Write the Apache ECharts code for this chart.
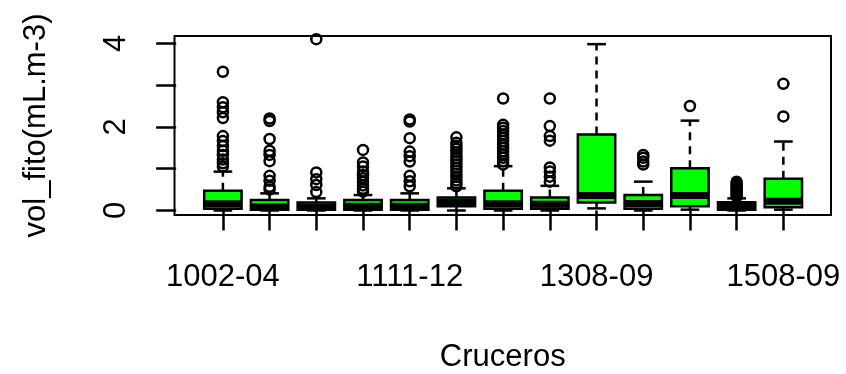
<!DOCTYPE html>
<html>
<head>
<meta charset="utf-8">
<script src="https://cdn.jsdelivr.net/npm/echarts@6/dist/echarts.min.js"></script>
<style>
  html, body { margin: 0; padding: 0; background: #fff; }
  #chart { width: 846px; height: 374px; }
</style>
</head>
<body>
<div id="chart"></div>
<script>
// cruceros (only every 4th label is printed on the axis)
const cruceros = ['1002-04', '', '', '', '1111-12', '', '', '', '1308-09', '', '', '', '1508-09'];

// box statistics per crucero
const bigoteInf = [0.00, 0.00, 0.00, 0.00, 0.00, 0.00, 0.00, 0.00, 0.05, 0.00, 0.02, 0.00, 0.02];
const cuartil1 = [0.04, 0.02, 0.02, 0.02, 0.02, 0.10, 0.04, 0.04, 0.19, 0.04, 0.10, 0.02, 0.08];
const mediana = [0.16, 0.09, 0.08, 0.10, 0.10, 0.20, 0.16, 0.15, 0.36, 0.17, 0.36, 0.10, 0.22];
const cuartil3 = [0.47, 0.25, 0.19, 0.25, 0.25, 0.31, 0.47, 0.31, 1.82, 0.37, 1.01, 0.20, 0.76];
const bigoteSup = [0.93, 0.41, 0.29, 0.37, 0.41, 0.53, 1.06, 0.59, 3.98, 0.69, 2.15, 0.29, 1.65];

// outliers per crucero
const atipicos = [
  [3.32, 2.59, 2.47, 2.35, 2.21, 1.78, 1.66, 1.54, 1.43, 1.33, 1.22, 1.13, 1.05],
  [4.27, 2.20, 2.14, 1.71, 1.43, 1.33, 1.18, 0.83, 0.71, 0.57, 0.50],
  [4.10, 0.91, 0.75, 0.61, 0.44],
  [1.45, 1.15, 1.05, 0.93, 0.85, 0.77, 0.69, 0.60, 0.52, 0.45],
  [4.27, 2.18, 2.13, 1.73, 1.41, 1.30, 1.17, 0.83, 0.70, 0.58],
  [1.75, 1.62, 1.55, 1.48, 1.40, 1.32, 1.25, 1.18, 1.10, 1.02, 0.95, 0.88, 0.80, 0.72, 0.65, 0.58],
  [2.68, 2.05, 1.98, 1.90, 1.82, 1.74, 1.66, 1.58, 1.50, 1.42, 1.34, 1.26, 1.18, 1.10],
  [2.68, 2.02, 1.78, 1.67, 1.03, 0.93, 0.81, 0.69],
  [],
  [1.33, 1.26, 1.17, 1.10],
  [2.50],
  [0.69, 0.64, 0.60, 0.56, 0.52, 0.48, 0.44, 0.40, 0.36, 0.33],
  [3.03, 2.25]
];

const yTicks = [0, 1, 2, 3, 4];
const yLabels = [0, 2, 4];

const FONT = 'Liberation Sans, Arial, sans-serif';

const boxData = cruceros.map((c, i) => [i + 1, bigoteInf[i], cuartil1[i], mediana[i], cuartil3[i], bigoteSup[i]]);
const outlierData = [];
atipicos.forEach((list, i) => list.forEach(v => outlierData.push([i + 1, v])));

const xTicks = cruceros.map((c, i) => i + 1);
const xLabelPos = xTicks.filter((p, i) => cruceros[i] !== '');

const chart = echarts.init(document.getElementById('chart'));

function renderBox(params, api) {
  const x = api.value(0);
  const lo = api.coord([x, api.value(1)]);
  const q1 = api.coord([x, api.value(2)]);
  const md = api.coord([x, api.value(3)]);
  const q3 = api.coord([x, api.value(4)]);
  const hi = api.coord([x, api.value(5)]);
  const boxW = api.size([0.8, 0])[0];
  const capW = boxW / 2;
  const cx = q1[0];
  const line = { stroke: '#000', lineWidth: 2.5 };
  const dashed = { stroke: '#000', lineWidth: 2.5, lineDash: [8, 6] };
  return {
    type: 'group',
    children: [
      { type: 'line', shape: { x1: cx, y1: q3[1], x2: cx, y2: hi[1] }, style: dashed },
      { type: 'line', shape: { x1: cx, y1: q1[1], x2: cx, y2: lo[1] }, style: dashed },
      { type: 'line', shape: { x1: cx - capW / 2, y1: hi[1], x2: cx + capW / 2, y2: hi[1] }, style: line },
      { type: 'line', shape: { x1: cx - capW / 2, y1: lo[1], x2: cx + capW / 2, y2: lo[1] }, style: line },
      {
        type: 'rect',
        shape: { x: cx - boxW / 2, y: q3[1], width: boxW, height: q1[1] - q3[1] },
        style: { fill: '#00ff00', stroke: '#000', lineWidth: 2.5 }
      },
      { type: 'line', shape: { x1: cx - boxW / 2, y1: md[1], x2: cx + boxW / 2, y2: md[1] }, style: { stroke: '#000', lineWidth: 7 } }
    ]
  };
}

const option = {
  animation: false,
  backgroundColor: '#fff',
  grid: {
    left: 174.5,
    top: 36,
    width: 656.5,
    height: 179,
    show: true,
    borderColor: '#000',
    borderWidth: 2,
    containLabel: false,
    outerBoundsMode: 'none'
  },
  xAxis: {
    type: 'value',
    min: -0.036,
    max: 14.02,
    splitLine: { show: false },
    axisLine: { show: false },
    axisTick: {
      show: true,
      customValues: xTicks,
      length: 20,
      lineStyle: { color: '#000', width: 2.5 }
    },
    axisLabel: {
      customValues: xLabelPos,
      formatter: v => cruceros[Math.round(v) - 1],
      margin: 47,
      fontSize: 31,
      fontFamily: FONT,
      color: '#000'
    },
    name: 'Cruceros',
    nameLocation: 'middle',
    nameGap: 127,
    nameMoveOverlap: false,
    nameTextStyle: { fontSize: 31, fontFamily: FONT, color: '#000' }
  },
  yAxis: {
    type: 'value',
    min: -0.108,
    max: 4.175,
    splitLine: { show: false },
    axisLine: { show: false },
    axisTick: {
      show: true,
      customValues: yTicks,
      length: 20,
      lineStyle: { color: '#000', width: 2.5 }
    },
    axisLabel: {
      customValues: yLabels,
      rotate: 90,
      margin: 43,
      fontSize: 31,
      fontFamily: FONT,
      color: '#000'
    },
    name: 'vol_fito(mL.m-3)',
    nameLocation: 'middle',
    nameRotate: 90,
    nameGap: 123,
    nameMoveOverlap: false,
    nameTextStyle: { fontSize: 31, fontFamily: FONT, color: '#000' }
  },
  series: [
    {
      type: 'custom',
      renderItem: renderBox,
      encode: { x: 0, y: [1, 2, 3, 4, 5] },
      data: boxData,
      clip: true
    },
    {
      type: 'scatter',
      data: outlierData,
      symbol: 'circle',
      symbolSize: 10,
      clip: true,
      itemStyle: { color: 'transparent', borderColor: '#000', borderWidth: 2.5, opacity: 1 }
    }
  ]
};

chart.setOption(option);
</script>
</body>
</html>
